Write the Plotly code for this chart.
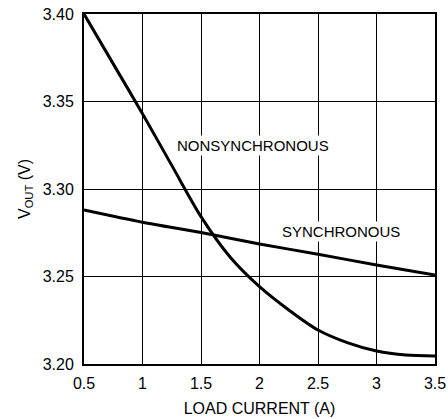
import plotly.graph_objects as go

# Data
nonsync_x = [0.5, 0.75, 1.0, 1.25, 1.5, 1.75, 2.0, 2.25, 2.5, 2.75, 3.0, 3.25, 3.5]
nonsync_y = [3.400, 3.3715, 3.343, 3.3135, 3.2842, 3.261, 3.2442, 3.2309, 3.2194, 3.2122, 3.2074, 3.2051, 3.2046]

sync_x = [0.5, 1.0, 1.5, 2.0, 2.5, 3.0, 3.5]
sync_y = [3.2880, 3.2810, 3.2751, 3.2686, 3.2627, 3.2566, 3.2509]

x_ticks = [0.5, 1, 1.5, 2, 2.5, 3, 3.5]
x_tick_labels = ["0.5", "1", "1.5", "2", "2.5", "3", "3.5"]
y_ticks = [3.20, 3.25, 3.30, 3.35, 3.40]
y_tick_labels = ["3.20", "3.25", "3.30", "3.35", "3.40"]

FONT = "Liberation Sans, Arial, sans-serif"

fig = go.Figure()
fig.add_trace(go.Scatter(x=nonsync_x, y=nonsync_y, mode="lines",
                         line=dict(color="black", width=3, shape="spline", smoothing=0.8),
                         showlegend=False, hoverinfo="skip"))
fig.add_trace(go.Scatter(x=sync_x, y=sync_y, mode="lines",
                         line=dict(color="black", width=3, shape="spline", smoothing=0.8),
                         showlegend=False, hoverinfo="skip"))

fig.add_annotation(x=1.944, y=3.325, text="NONSYNCHRONOUS", showarrow=False,
                   bgcolor="white", borderpad=1,
                   font=dict(family=FONT, size=15, color="black"))
fig.add_annotation(x=2.70, y=3.276, text="SYNCHRONOUS", showarrow=False,
                   bgcolor="white", borderpad=1,
                   font=dict(family=FONT, size=15, color="black"))

fig.update_xaxes(range=[0.5, 3.5], tickvals=x_ticks, ticktext=x_tick_labels,
                 showgrid=True, gridcolor="black", gridwidth=1,
                 showline=True, linecolor="black", linewidth=2, mirror=True,
                 ticks="", zeroline=False, automargin=False,
                 ticklabelstandoff=4,
                 tickfont=dict(family=FONT, size=16, color="black"),
                 title=dict(text="LOAD CURRENT (A)", standoff=12,
                            font=dict(family=FONT, size=16, color="black")))
fig.update_yaxes(range=[3.20, 3.40], tickvals=y_ticks, ticktext=y_tick_labels,
                 showgrid=True, gridcolor="black", gridwidth=1,
                 showline=True, linecolor="black", linewidth=2, mirror=True,
                 ticks="", zeroline=False, automargin=False,
                 ticklabelstandoff=5,
                 tickfont=dict(family=FONT, size=16, color="black"),
                 title=dict(text="V<sub>OUT</sub> (V)", standoff=8,
                            font=dict(family=FONT, size=16, color="black")))

fig.update_layout(width=448, height=419,
                  margin=dict(l=84, r=13, t=14, b=55),
                  plot_bgcolor="white", paper_bgcolor="white")

fig.write_html("out.html", config={"displayModeBar": False},
               post_script="document.body.style.margin='0';document.body.style.padding='0';")
